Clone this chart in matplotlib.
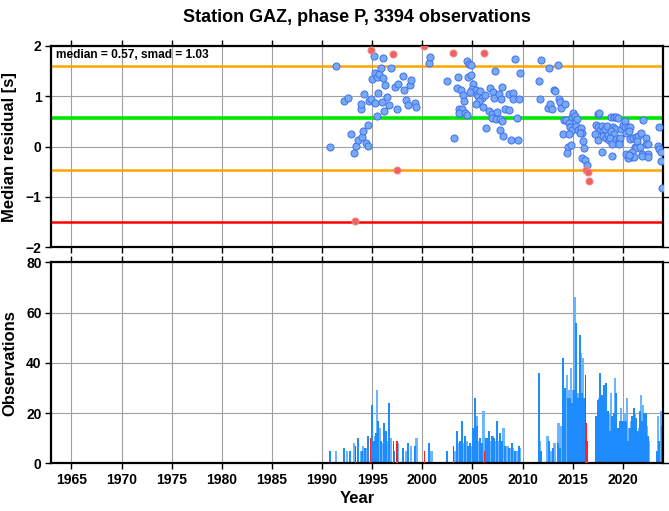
import numpy as np
import matplotlib.pyplot as plt

plt.rcParams['font.family'] = ['Liberation Sans', 'DejaVu Sans']
plt.rcParams['font.weight'] = 'bold'

# residual points (year, median residual)
blue_t = [1990.8, 1991.4, 1992.2, 1992.6, 1992.9, 1993.2, 1993.4, 1993.6, 1993.9, 1993.9,
          1994.0, 1994.1, 1994.2, 1994.4, 1994.6, 1994.6, 1994.7, 1994.9, 1995.0, 1995.2,
          1995.3, 1995.3, 1995.5, 1995.5, 1995.6, 1995.7, 1995.9, 1996.0, 1996.1, 1996.1,
          1996.2, 1996.3, 1996.5, 1996.7, 1996.9, 1997.3, 1997.5, 1997.6, 1998.1, 1998.2,
          1998.4, 1998.6, 1998.8, 1998.9, 1999.3, 1999.4, 2000.7, 2000.8,
          2002.5, 2003.2, 2003.6, 2003.5, 2003.9, 2004.1, 2004.2, 2003.7, 2004.0, 2003.7,
          2004.3, 2004.5, 2004.5, 2004.7, 2004.9, 2004.6, 2004.9, 2005.1, 2005.0, 2004.8,
          2005.4, 2005.5, 2005.6, 2005.8, 2006.0, 2005.7, 2005.4, 2006.3, 2006.1, 2006.6,
          2006.7, 2007.0, 2007.1, 2006.9, 2006.9, 2007.3, 2007.4, 2007.6, 2007.2, 2007.9,
          2007.8, 2007.7, 2007.9, 2006.4, 2007.7, 2008.0, 2008.2, 2008.6, 2008.6, 2009.0,
          2009.0, 2008.8, 2009.5, 2009.4, 2009.6, 2009.7, 2009.2, 2011.8, 2011.6, 2011.7,
          2012.5, 2012.6, 2012.7,
          2013.5, 2013.1, 2013.2, 2012.9, 2013.6, 2013.7, 2013.8, 2014.2, 2014.1, 2014.3,
          2014.9, 2015.0, 2015.2, 2015.4, 2014.6, 2014.7, 2014.9, 2015.3, 2015.5, 2015.8,
          2015.9, 2015.7, 2014.0, 2014.6, 2014.5, 2014.8, 2014.4, 2016.0, 2016.1, 2015.9,
          2016.2, 2016.4, 2023.6, 2023.5, 2023.6, 2023.8, 2023.8, 2023.9,
          2017.5, 2017.6, 2017.3, 2017.5, 2017.7, 2017.2, 2017.9, 2018.0, 2017.5, 2017.9,
          2018.2, 2018.4, 2018.0, 2018.3, 2018.5, 2018.6, 2018.8, 2019.1, 2019.3, 2019.5,
          2019.0, 2019.2, 2018.8, 2019.1, 2018.7, 2018.9, 2019.3, 2019.6, 2019.7, 2019.6,
          2019.8, 2020.0, 2020.2, 2020.2, 2020.3, 2020.5, 2020.7, 2020.7, 2021.0, 2021.2,
          2021.3, 2021.5, 2021.8, 2022.0, 2022.3, 2022.3, 2022.5, 2022.5, 2021.9, 2021.3,
          2020.9, 2020.8, 2021.1, 2020.5, 2020.3, 2020.6, 2021.9, 2022.5, 2018.9, 2020.6,
          2021.4, 2021.7]
blue_r = [0.0, 1.61, 0.91, 0.97, 0.25, -0.13, 0.02, 0.13, 0.75, 0.85,
          0.2, 0.31, 1.04, 0.07, 0.01, 0.44, 0.9, 0.94, 1.34, 1.8,
          0.87, 1.47, 1.39, 0.6, 1.06, 1.44, 1.56, 0.88, 1.76, 1.36,
          0.71, 1.22, 0.98, 0.83, 1.56, 1.18, 0.75, 1.24, 1.4, 1.13,
          0.93, 0.82, 1.22, 1.32, 0.87, 0.79, 1.66, 1.79,
          1.3, 0.17, 1.38, 1.16, 1.13, 1.03, 0.9, 0.75, 0.74, 0.66,
          0.67, 0.62, 1.7, 1.64, 1.63, 1.38, 1.42, 1.25, 1.15, 1.08,
          1.13, 1.05, 1.0, 1.1, 0.97, 0.9, 0.85, 1.03, 0.79, 0.7,
          1.16, 1.08, 0.97, 0.64, 0.56, 0.54, 0.69, 1.04, 1.51, 1.18,
          0.95, 0.54, 0.5, 0.37, 0.33, 0.22, 0.75, 0.72, 1.04, 1.06,
          0.95, 0.13, 0.13, 0.57, 0.95, 1.46, 1.74, 1.72, 1.31, 0.94,
          0.77, 1.57, 0.85,
          1.62, 1.12, 1.11, 0.74, 0.95, 0.88, 0.77, 0.85, 0.53, 0.52,
          0.59, 0.66, 0.6, 0.54, 0.47, 0.39, 0.34, 0.42, 0.34, 0.38,
          0.27, 0.27, 0.25, 0.25, 0.0, 0.03, -0.13, 0.12, -0.03, -0.23,
          -0.27, -0.37, 0.39, 0.02, -0.05, -0.11, -0.28, -0.83,
          0.64, 0.67, 0.44, 0.39, 0.34, 0.25, 0.42, 0.31, 0.13, -0.1,
          0.35, 0.42, 0.21, 0.17, 0.24, 0.13, 0.58, 0.58, 0.58, 0.56,
          0.39, 0.36, 0.31, 0.26, 0.17, 0.05, 0.16, 0.13, 0.17, 0.06,
          0.36, 0.44, 0.51, 0.39, 0.27, 0.39, 0.39, 0.15, 0.18, -0.01,
          0.19, 0.22, 0.27, 0.52, 0.17, 0.06, 0.05, -0.15, -0.15, -0.03,
          -0.11, -0.21, -0.21, -0.23, -0.14, -0.17, -0.19, -0.21, -0.18, 0.31,
          0.11, 0.0]
red_t = [1994.85, 1997.1, 1997.5, 1993.3, 2000.2, 2003.1, 2006.2, 2016.3, 2016.5, 2016.6]
red_r = [1.92, 1.85, -0.47, -1.47, 2.0, 1.87, 1.87, -0.47, -0.5, -0.68]

median = 0.57
smad = 1.03

# observation counts per bar
bar_t = [1990.8, 1991.4, 1992.2, 1992.5, 1992.8, 1993.2, 1993.6, 1993.9, 1994.0, 1994.1,
         1994.3, 1994.5, 1994.6, 1994.9, 1995.0, 1995.1, 1995.2, 1995.3, 1995.4, 1995.5,
         1995.6, 1995.8, 1995.9, 1996.0, 1996.2, 1996.3, 1996.4, 1996.5, 1996.7, 1996.9,
         1997.2, 1997.6, 1998.1, 1998.4, 1998.6, 1998.9, 1999.3, 1999.4, 2000.7, 2000.9,
         2002.5, 2003.2, 2003.5, 2003.7, 2003.8, 2003.9, 2004.0, 2004.2, 2004.3, 2004.4,
         2004.6, 2004.7, 2004.8, 2005.0, 2005.1, 2005.2, 2005.3, 2005.4, 2005.5, 2005.7,
         2005.8, 2005.9, 2006.0, 2006.1, 2006.4, 2006.5, 2006.6, 2006.8, 2006.9, 2007.0,
         2007.1, 2007.3, 2007.4, 2007.5, 2007.7, 2007.8, 2007.9, 2008.1, 2008.2, 2008.5,
         2008.6, 2008.8, 2008.9, 2009.0, 2009.2, 2009.4, 2009.6, 2009.7, 2011.6, 2011.7,
         2011.8, 2012.5, 2012.6, 2012.9, 2013.0, 2013.2, 2013.5, 2013.6, 2013.7, 2013.8,
         2014.0, 2014.1, 2014.2, 2014.4, 2014.5, 2014.6, 2014.7, 2014.8, 2014.9, 2015.0,
         2015.1, 2015.2, 2015.3, 2015.4, 2015.5, 2015.6, 2015.7, 2015.8, 2015.9, 2016.0,
         2016.1, 2016.2, 2017.3, 2017.4, 2017.5, 2017.6, 2017.7, 2017.8, 2017.9, 2018.0,
         2018.1, 2018.2, 2018.3, 2018.4, 2018.5, 2018.6, 2018.7, 2018.8, 2018.9, 2019.0,
         2019.1, 2019.2, 2019.3, 2019.4, 2019.5, 2019.6, 2019.7, 2019.8, 2019.9, 2020.0,
         2020.1, 2020.2, 2020.3, 2020.4, 2020.5, 2020.6, 2020.7, 2020.8, 2020.9, 2021.0,
         2021.1, 2021.2, 2021.3, 2021.4, 2021.5, 2021.6, 2021.7, 2021.8, 2021.9, 2022.0,
         2022.1, 2022.2, 2022.3, 2022.4, 2022.5, 2022.6, 2023.4, 2023.5, 2023.6, 2023.8,
         2023.9]
bar_n = [5, 5, 6, 5, 5, 8, 10, 5, 5, 7,
         6, 6, 11, 10, 23, 7, 9, 11, 12, 29,
         17, 14, 9, 8, 16, 8, 13, 9, 24, 10,
         5, 8, 6, 5, 8, 7, 7, 10, 8, 5,
         5, 5, 13, 8, 9, 9, 17, 8, 11, 9,
         7, 6, 8, 7, 14, 10, 26, 19, 15, 9,
         10, 7, 8, 21, 10, 9, 13, 9, 11, 11,
         10, 9, 17, 9, 12, 9, 9, 14, 7, 7,
         6, 6, 8, 6, 5, 5, 7, 6, 36, 9,
         5, 11, 9, 5, 6, 8, 8, 16, 6, 15,
         42, 12, 30, 35, 26, 29, 26, 38, 24, 29,
         29, 66, 56, 28, 26, 28, 51, 44, 28, 42,
         26, 22, 19, 12, 25, 26, 36, 26, 27, 24,
         31, 21, 32, 13, 21, 20, 13, 28, 19, 14,
         20, 34, 28, 14, 14, 14, 17, 22, 17, 17,
         17, 20, 17, 26, 9, 14, 14, 17, 19, 13,
         22, 20, 18, 11, 13, 14, 21, 27, 17, 23,
         20, 15, 20, 15, 11, 9, 5, 19, 9, 21,
         15]
red_bar_t = [1993.3, 1994.8, 1997.1, 1997.4, 1997.5, 2000.2, 2003.1, 2006.2, 2016.3, 2016.4, 2016.5]
red_bar_n = [7, 10, 9, 9, 9, 5, 7, 5, 35, 16, 9]

fig = plt.figure(figsize=(6.69, 5.11), dpi=100)
ax1 = fig.add_axes([0.0767, 0.516, 0.9143, 0.394])
ax2 = fig.add_axes([0.0767, 0.0934, 0.9143, 0.3933])

for ax in (ax1, ax2):
    ax.set_xlim(1963.0, 2024.0)
    ax.set_xticks(np.arange(1965, 2024, 5))
    ax.grid(True, color='#a0a0a0', lw=0.8)
    ax.set_axisbelow(True)
    ax.tick_params(direction='out', length=4, width=1, top=True, right=True,
                   labelsize=10, pad=3)
    for s in ax.spines.values():
        s.set_linewidth(1.6)

# top panel
ax1.set_ylim(-2, 2)
ax1.set_yticks([-2, -1, 0, 1, 2])
ax1.tick_params(labelbottom=False)
ax1.axhline(median + smad, color='#ffa500', lw=1.8, zorder=2)
ax1.axhline(median - smad, color='#ffa500', lw=1.8, zorder=2)
ax1.axhline(median, color='#00e600', lw=2.6, zorder=2)
ax1.axhline(-1.5, color='#ff0000', lw=1.8, zorder=2)
ax1.scatter(blue_t, blue_r, s=26, c='#78aaf2', edgecolors='#3d6ff5', linewidths=0.7, zorder=3)
ax1.scatter(red_t, red_r, s=26, c='#f06262', edgecolors='#f28a8a', linewidths=0.7, zorder=3)
ax1.text(0.008, 0.985, 'median = %.2f, smad = %.2f' % (median, smad), transform=ax1.transAxes,
         ha='left', va='top', fontsize=8.6, fontweight='bold')
ax1.set_ylabel('Median residual [s]', fontsize=12, fontweight='bold', labelpad=6)
ax1.set_title('Station GAZ, phase P, 3394 observations', fontsize=13, fontweight='bold', pad=17)

# bottom panel
ax2.set_ylim(0, 80)
ax2.set_yticks([0, 20, 40, 60, 80])
light = [i for i in range(len(bar_t)) if i % 2 == 1]
dark = [i for i in range(len(bar_t)) if i % 2 == 0]
ax2.bar([bar_t[i] for i in light], [bar_n[i] for i in light], width=0.24,
        color='#6cb6ff', align='center', zorder=2)
ax2.bar([bar_t[i] for i in dark], [bar_n[i] for i in dark], width=0.2,
        color='#1e8cff', align='center', zorder=2)
ax2.bar(red_bar_t, red_bar_n, width=0.12, color='#ff2020', align='center', zorder=3)
ax2.set_ylabel('Observations', fontsize=12, fontweight='bold', labelpad=6)
ax2.set_xlabel('Year', fontsize=12, fontweight='bold', labelpad=3)

fig.savefig('out.png', dpi=100)
